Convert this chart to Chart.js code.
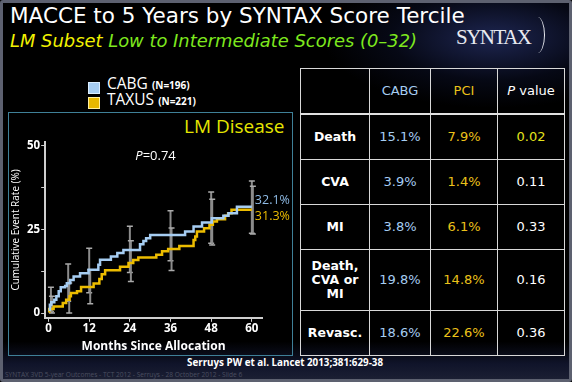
<!DOCTYPE html>
<html>
<head>
<meta charset="utf-8">
<script src="https://cdn.jsdelivr.net/npm/chart.js@4.4.1/dist/chart.umd.min.js"></script>
<style>
    html, body {
        margin: 0;
        padding: 0;
        width: 572px;
        height: 382px;
        overflow: hidden;
        background: #000;
        font-family: "DejaVu Sans", sans-serif;
    }
    #slide {
        position: absolute;
        left: 0;
        top: 0;
        width: 566px;
        height: 376px;
        border: 3px solid #5d6170;
        border-radius: 3px;
        background:
            radial-gradient(ellipse 170px 70px at 490px 35px, #1d2550 0%, rgba(10, 14, 35, 0.6) 60%, rgba(0, 0, 0, 0) 100%),
            linear-gradient(to bottom, #000 0%, #000 90%, #10142a 96%, #1b1f33 100%);
    }
    .abs { position: absolute; white-space: nowrap; }
    #title { left: 10px; top: 3px; font-size: 21.5px; color: #fff; }
    #subtitle { left: 10px; top: 30px; font-size: 17.9px; font-style: italic; color: #7ee81e; }
    #subtitle span { color: #f2f200; }
    #logo { left: 456px; top: 25px; font-family: "Liberation Serif", serif; font-size: 21px; color: #e8eaf0; letter-spacing: -1.5px; }
    #logo-paren {
        position: absolute;
        left: 530px;
        top: 17px;
        width: 14px;
        height: 36px;
        border-right: 1.5px solid #e8eaf0;
        border-radius: 0 50% 50% 0 / 0 50% 50% 0;
    }
    .legend-box { position: absolute; width: 10px; height: 10px; border: 1px solid; }
    .legend-text { font-family: "Open Sans", sans-serif; font-size: 15.5px; color: #fff; }
    .legend-text small { font-size: 10px; font-weight: bold; }
    #panel {
        position: absolute;
        left: 8px;
        top: 112px;
        width: 283px;
        height: 242px;
        border: 1px solid #3f8098;
    }
    #panel-title { left: 184px; top: 113px; font-family: "Open Sans", sans-serif; font-size: 19px; color: #e6e600; }
    #chart-canvas { position: absolute; left: 8px; top: 112px; }
    #stats {
        position: absolute;
        left: 300px;
        top: 68px;
        border-collapse: collapse;
        table-layout: fixed;
        font-size: 13px;
    }
    #stats td {
        border: 1px solid #d8d8d8;
        text-align: center;
        padding: 0;
        color: #fff;
        line-height: 14px;
    }
    #stats tr.head td { border-bottom: 2px solid #e0e0e0; }
    #stats td.lbl { font-weight: bold; font-size: 12.5px; }
    #stats .cabg { color: #a6cdf2; }
    #stats .pci { color: #ecc21a; }
    #stats .sig { color: #e4e41c; }
    #footer { left: 0; width: 570px; text-align: center; top: 356px; font-family: "Open Sans", sans-serif; font-size: 9.8px; font-weight: bold; color: #fff; }
    #footer-note { left: 5px; top: 370px; font-family: "Open Sans", sans-serif; font-size: 6.6px; color: #4b4f60; }
</style>
</head>
<body>
<div id="slide"></div>

<div class="abs" id="title">MACCE to 5 Years by SYNTAX Score Tercile</div>
<div class="abs" id="subtitle"><span>LM Subset</span> Low to Intermediate Scores (0–32)</div>
<div class="abs" id="logo">SYNTAX</div>
<div id="logo-paren"></div>

<div class="legend-box" style="left:88px;top:82px;background:#a6cdf2;border-color:#dbeeff;"></div>
<div class="abs legend-text" style="left:107px;top:72px;">CABG <small>(N=196)</small></div>
<div class="legend-box" style="left:88px;top:97px;background:#e8b800;border-color:#fff0a0;"></div>
<div class="abs legend-text" style="left:107px;top:88px;">TAXUS <small>(N=221)</small></div>

<div id="panel"></div>
<div class="abs" id="panel-title">LM Disease</div>
<canvas id="chart-canvas" width="285" height="243"></canvas>

<table id="stats">
    <colgroup>
        <col style="width:69px"><col style="width:61px"><col style="width:67px"><col style="width:67px">
    </colgroup>
    <tr class="head" style="height:45px">
        <td></td><td class="cabg">CABG</td><td class="pci">PCI</td><td><i>P</i> value</td>
    </tr>
    <tr style="height:46px"><td class="lbl">Death</td><td class="cabg">15.1%</td><td class="pci">7.9%</td><td class="sig">0.02</td></tr>
    <tr style="height:45px"><td class="lbl">CVA</td><td class="cabg">3.9%</td><td class="pci">1.4%</td><td>0.11</td></tr>
    <tr style="height:45px"><td class="lbl">MI</td><td class="cabg">3.8%</td><td class="pci">6.1%</td><td>0.33</td></tr>
    <tr style="height:61px"><td class="lbl">Death,<br>CVA or<br>MI</td><td class="cabg">19.8%</td><td class="pci">14.8%</td><td>0.16</td></tr>
    <tr style="height:45px"><td class="lbl">Revasc.</td><td class="cabg">18.6%</td><td class="pci">22.6%</td><td>0.36</td></tr>
</table>

<div class="abs" id="footer">Serruys PW et al. Lancet 2013;381:629-38</div>
<div class="abs" id="footer-note">SYNTAX 3VD 5-year Outcomes - TCT 2012 - Serruys - 28 October 2012 - Slide 6</div>

<script>
// Kaplan-Meier steps (months, cumulative %)
const cabgMonths = [0, 0.4, 0.8, 1.7, 2.3, 3.0, 3.6, 4.9, 5.4, 6.4, 7.4, 9.3, 11.8, 14.7, 15.2, 18.4, 20.3, 22.1, 27.0, 28.0, 28.8, 30.0, 40.3, 42.8, 45.3, 48.2, 51.6, 53.1, 55.6, 60];
const cabgRates = [1.0, 2.5, 3.2, 4.0, 5.0, 6.5, 7.7, 8.1, 8.9, 9.9, 10.9, 11.9, 12.9, 14.4, 15.9, 16.9, 17.9, 18.8, 20.5, 21.5, 22.3, 23.3, 24.3, 25.8, 27.0, 28.3, 29.0, 29.8, 31.7, 31.7];

const taxusMonths = [0, 0.2, 1.5, 4.2, 5.2, 6.2, 6.6, 8.4, 9.6, 13.3, 15.0, 15.7, 16.7, 21.1, 23.6, 25.0, 26.5, 31.8, 33.5, 35.3, 38.6, 42.8, 43.3, 43.8, 45.9, 47.5, 48.5, 49.7, 52.1, 53.0, 54.0, 60];
const taxusRates = [0.5, 1.2, 2.0, 3.0, 4.0, 5.0, 6.0, 6.5, 7.8, 8.8, 10.2, 11.6, 12.8, 13.8, 14.9, 15.8, 16.6, 17.4, 18.4, 19.1, 20.0, 21.8, 22.8, 24.3, 25.3, 26.3, 27.3, 28.0, 29.0, 29.8, 30.8, 30.8];

// Confidence interval bars
const barMonths = [0.7, 5.8, 12, 24, 36, 48, 60];
const cabgLow = [0.5, 3.5, 6.1, 12.1, 15.6, 20.8, 23.8];
const cabgHigh = [7.7, 14.6, 19.3, 25.9, 30.5, 36.1, 39.4];
const taxusLow = [0, 0, 2.8, 9.4, 12.7, 20.3, 23.6];
const taxusHigh = [5.0, 9.0, 12.9, 21.6, 25.4, 33.9, 37.8];

// Axis ticks and end labels
const monthTicks = [0, 12, 24, 36, 48, 60];
const rateTicks = [0, 12.5, 25, 37.5, 50];
const rateLabels = [0, 25, 50];
const endLabels = ['32.1%', '31.3%'];
const pValueText = '=0.74';

const CABG_COLOR = '#a6cdf2';
const TAXUS_COLOR = '#ecbc00';

const toPoints = (xs, ys) => xs.map((x, i) => ({ x: x, y: ys[i] }));

// Draws the grey CI bars behind the curves
const errorBarPlugin = {
    id: 'errorBars',
    beforeDatasetsDraw(chart) {
        const { ctx, scales: { x, y } } = chart;
        const drawBar = (m, lo, hi) => {
            const px = x.getPixelForValue(m);
            const top = y.getPixelForValue(hi);
            const bot = y.getPixelForValue(lo);
            ctx.strokeStyle = '#8c8c8c';
            ctx.lineWidth = 2;
            ctx.beginPath();
            ctx.moveTo(px, top);
            ctx.lineTo(px, bot);
            ctx.stroke();
            ctx.strokeStyle = '#ababab';
            ctx.lineWidth = 1.5;
            ctx.beginPath();
            ctx.moveTo(px - 3, top);
            ctx.lineTo(px + 3, top);
            ctx.moveTo(px - 3, bot);
            ctx.lineTo(px + 3, bot);
            ctx.stroke();
        };
        ctx.save();
        barMonths.forEach((m, i) => {
            drawBar(m, cabgLow[i], cabgHigh[i]);
            drawBar(m + 0.3, taxusLow[i], taxusHigh[i]);
        });
        ctx.restore();
    }
};

// End-of-curve percentages and the P value
const annotationPlugin = {
    id: 'annotations',
    afterDatasetsDraw(chart) {
        const { ctx, scales: { x, y } } = chart;
        ctx.save();
        ctx.textBaseline = 'middle';
        ctx.font = '12.5px "Open Sans", sans-serif';
        const endX = x.getPixelForValue(60) + 3;
        ctx.fillStyle = '#8fbbe6';
        ctx.fillText(endLabels[0], endX, y.getPixelForValue(cabgRates[cabgRates.length - 1]) - 6);
        ctx.fillStyle = TAXUS_COLOR;
        ctx.fillText(endLabels[1], endX, y.getPixelForValue(taxusRates[taxusRates.length - 1]) + 7);

        const px = x.getPixelForValue(25.6);
        const py = y.getPixelForValue(46.6);
        ctx.fillStyle = '#fff';
        ctx.font = 'italic 13px "Open Sans", sans-serif';
        ctx.fillText('P', px, py);
        const w = ctx.measureText('P').width;
        ctx.font = '13px "Open Sans", sans-serif';
        ctx.fillText(pValueText, px + w, py);
        ctx.restore();
    }
};

const setup = () => {
    const ctx = document.getElementById('chart-canvas').getContext('2d');

    new Chart(ctx, {
        type: 'line',
        data: {
            datasets: [
                {
                    label: 'CABG',
                    data: toPoints(cabgMonths, cabgRates),
                    borderColor: CABG_COLOR,
                    borderWidth: 2.5,
                    stepped: true,
                    pointRadius: 0,
                    fill: false
                },
                {
                    label: 'TAXUS',
                    data: toPoints(taxusMonths, taxusRates),
                    borderColor: TAXUS_COLOR,
                    borderWidth: 2.5,
                    stepped: true,
                    pointRadius: 0,
                    fill: false
                }
            ]
        },
        options: {
            responsive: false,
            animation: false,
            devicePixelRatio: 1,
            layout: {
                padding: { top: 30, right: 31, left: 0, bottom: 0 }
            },
            plugins: {
                legend: { display: false },
                tooltip: { enabled: false }
            },
            scales: {
                x: {
                    type: 'linear',
                    min: -1,
                    max: 63,
                    afterBuildTicks: (axis) => {
                        axis.ticks = monthTicks.map(v => ({ value: v }));
                    },
                    ticks: {
                        color: '#fff',
                        font: { size: 11.5, weight: 'bold', family: '"Open Sans", sans-serif' },
                        padding: 0,
                        maxRotation: 0
                    },
                    grid: { drawOnChartArea: false, tickLength: 4, color: '#cfcfcf' },
                    border: { color: '#cfcfcf', width: 2 },
                    title: {
                        display: true,
                        text: 'Months Since Allocation',
                        color: '#fff',
                        font: { size: 12, weight: 'bold', family: '"Open Sans", sans-serif' },
                        padding: { top: 4, bottom: 1 }
                    }
                },
                y: {
                    min: -1.4,
                    max: 51,
                    afterBuildTicks: (axis) => {
                        axis.ticks = rateTicks.map(v => ({ value: v }));
                    },
                    ticks: {
                        color: '#fff',
                        font: { size: 11.5, weight: 'bold', family: '"Open Sans", sans-serif' },
                        padding: 1,
                        callback: (value) => rateLabels.includes(value) ? value : ''
                    },
                    grid: { drawOnChartArea: false, tickLength: 4, color: '#cfcfcf' },
                    border: { color: '#cfcfcf', width: 2 },
                    title: {
                        display: true,
                        text: 'Cumulative Event Rate (%)',
                        color: '#fff',
                        font: { size: 10, family: '"Open Sans", sans-serif' },
                        padding: { top: 2, bottom: 4 }
                    }
                }
            }
        },
        plugins: [errorBarPlugin, annotationPlugin]
    });
};

document.addEventListener('DOMContentLoaded', setup);
</script>
</body>
</html>
